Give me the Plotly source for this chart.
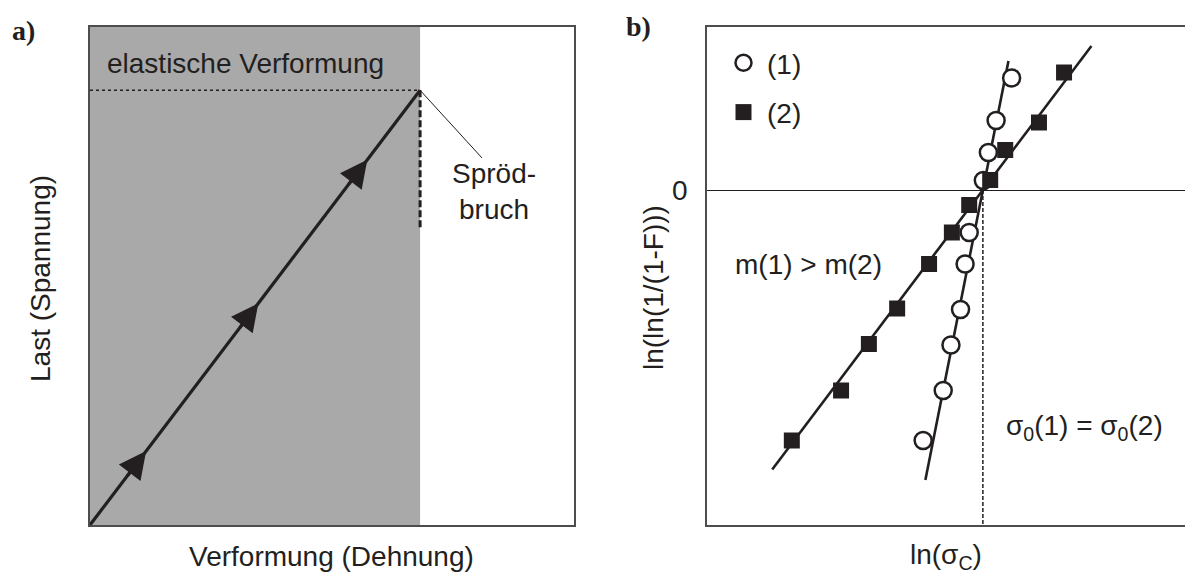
import plotly.graph_objects as go

W, H = 1185, 578
INK = "#231f20"
FONT = "Arial, Liberation Sans, sans-serif"
TXT = 28

# ---- panel a: load path of a brittle material (axis fractions) ----
deformation = [0.0, 0.682]        # start and fracture strain
load = [0.0, 0.873]               # start and fracture stress
arrow_tips = [0.17, 0.51, 0.84]   # direction arrows along the path (path fraction)
fracture_drop_to = 0.596          # lower end of the dashed drop at fracture

# ---- panel b: Weibull plot ----
ln_sigma_1 = [6.68, 6.34, 6.17, 6.06, 5.75, 5.66, 5.56, 5.35, 5.18, 4.74]
lnln_1 = [2.24, 1.39, 0.75, 0.19, -0.85, -1.48, -2.39, -3.10, -4.01, -5.01]
ln_sigma_2 = [7.83, 7.28, 6.54, 6.21, 5.75, 5.37, 4.87, 4.17, 3.55, 2.94, 1.86]
lnln_2 = [2.35, 1.35, 0.80, 0.20, -0.30, -0.85, -1.48, -2.37, -3.08, -4.01, -5.01]
ln_sigma_0 = 6.05                 # common characteristic strength
m_1, m_2 = 4.6, 1.21              # Weibull moduli (slopes)
fit_1_y = [-5.8, 2.58]
fit_2_y = [-5.59, 2.88]

# panel placement in pixels
A_X = (90, 574)
B_X = (707, 1185)
P_Y = (27, 525)
XB_RANGE = [0, (B_X[1] - B_X[0]) / 45.6]
YB_RANGE = [-(P_Y[1] - 190) / 50, (190 - P_Y[0]) / 50]


def xdom(px):
    return [px[0] / W, px[1] / W]


ydom = [1 - P_Y[1] / H, 1 - P_Y[0] / H]

fig = go.Figure()

# load path
fig.add_trace(go.Scatter(x=deformation, y=load, mode="lines",
                         line=dict(color=INK, width=3.2), showlegend=False,
                         xaxis="x", yaxis="y", hoverinfo="skip"))

# Weibull fit lines through the common sigma_0
fit_1_x = [ln_sigma_0 + y / m_1 for y in fit_1_y]
fit_2_x = [ln_sigma_0 + y / m_2 for y in fit_2_y]
for fx, fy in ((fit_1_x, fit_1_y), (fit_2_x, fit_2_y)):
    fig.add_trace(go.Scatter(x=fx, y=fy, mode="lines", line=dict(color=INK, width=2.6),
                             showlegend=False, xaxis="x2", yaxis="y2", hoverinfo="skip"))

fig.add_trace(go.Scatter(x=ln_sigma_1, y=lnln_1, mode="markers", name="(1)",
                         legendgroup="1",
                         marker=dict(symbol="circle", size=17, color="white",
                                     line=dict(color=INK, width=2.5)),
                         xaxis="x2", yaxis="y2"))
fig.add_trace(go.Scatter(x=ln_sigma_2, y=lnln_2, mode="markers", name="(2)",
                         legendgroup="2",
                         marker=dict(symbol="square", size=16, color=INK,
                                     line=dict(color=INK, width=0)),
                         xaxis="x2", yaxis="y2"))

shapes = [
    # elastic region
    dict(type="rect", xref="x", yref="y", x0=0, x1=deformation[1], y0=0, y1=1,
         fillcolor="#a9a9a9", line=dict(width=0), layer="below"),
    # level of fracture load
    dict(type="line", xref="x", yref="y", x0=0, x1=deformation[1], y0=load[1], y1=load[1],
         line=dict(color=INK, width=1.5, dash="dot")),
    # sudden drop at brittle fracture
    dict(type="line", xref="x", yref="y", x0=deformation[1], x1=deformation[1],
         y0=load[1], y1=fracture_drop_to, line=dict(color=INK, width=3, dash="7px,3px")),
    # leader to the fracture point
    dict(type="line", xref="x", yref="y", x0=deformation[1], x1=0.81,
         y0=load[1], y1=0.737, line=dict(color=INK, width=1)),
    # sigma_0 marker on panel b
    dict(type="line", xref="x2", yref="y2", x0=ln_sigma_0, x1=ln_sigma_0,
         y0=0, y1=YB_RANGE[0], line=dict(color=INK, width=1.5, dash="4px,2px")),
]

annotations = [
    dict(text="<b>a)</b>", x=10 / W, y=1 - 30 / H, xanchor="left", yanchor="middle",
         font=dict(family="Liberation Serif, Times New Roman, serif", size=28, color=INK)),
    dict(text="<b>b)</b>", x=624 / W, y=1 - 26 / H, xanchor="left", yanchor="middle",
         font=dict(family="Liberation Serif, Times New Roman, serif", size=28, color=INK)),
    dict(text="elastische Verformung", x=245 / W, y=1 - 63 / H, xanchor="center",
         yanchor="middle"),
    dict(text="Spröd-<br>bruch", x=494 / W, y=1 - 191 / H, xanchor="center",
         yanchor="middle"),
    dict(text="Verformung (Dehnung)", x=(A_X[0] + A_X[1]) / 2 / W, y=1 - 556 / H,
         xanchor="center", yanchor="middle"),
    dict(text="Last (Spannung)", x=40 / W, y=1 - 279 / H, xanchor="center",
         yanchor="middle", textangle=-90),
    dict(text="ln(ln(1/(1-F)))", x=653 / W, y=1 - 288 / H, xanchor="center",
         yanchor="middle", textangle=-90),
    dict(text="ln(σ<sub>C</sub>)", x=946 / W, y=1 - 556 / H, xanchor="center",
         yanchor="middle"),
    dict(text="m(1) > m(2)", x=733 / W, y=1 - 264 / H, xanchor="left",
         yanchor="middle"),
    dict(text="σ<sub>0</sub>(1) = σ<sub>0</sub>(2)", x=1004 / W, y=1 - 427 / H,
         xanchor="left", yanchor="middle"),
]
for a in annotations:
    a.update(xref="paper", yref="paper", showarrow=False)
    a.setdefault("font", dict(size=TXT, color=INK))

# direction arrowheads sitting on the load path
for s in arrow_tips:
    tip_x = deformation[0] + s * (deformation[1] - deformation[0])
    tip_y = load[0] + s * (load[1] - load[0])
    tail_x = deformation[0] + (s - 0.06) * (deformation[1] - deformation[0])
    tail_y = load[0] + (s - 0.06) * (load[1] - load[0])
    annotations.append(dict(
        x=tip_x, y=tip_y, ax=tail_x, ay=tail_y, xref="x", yref="y", axref="x", ayref="y",
        text="", showarrow=True, arrowhead=2, arrowsize=1.7, arrowwidth=3.2,
        arrowcolor=INK, standoff=0, startstandoff=0))

frame = dict(showline=True, linecolor="#4d4d4d", linewidth=1.5, showgrid=False,
             zeroline=False, ticks="", showticklabels=False, fixedrange=True)

fig.update_layout(
    width=W, height=H, margin=dict(l=0, r=0, t=0, b=0),
    paper_bgcolor="white", plot_bgcolor="white",
    font=dict(family=FONT, color=INK, size=TXT),
    xaxis=dict(domain=xdom(A_X), range=[0, 1], mirror=True, **frame),
    yaxis=dict(domain=ydom, range=[0, 1], mirror=True, **frame),
    xaxis2=dict(domain=xdom(B_X), range=XB_RANGE, anchor="y2", mirror=True, **frame),
    yaxis2=dict(domain=ydom, range=YB_RANGE, anchor="x2", mirror=False,
                **{**frame, "zeroline": True, "zerolinecolor": INK, "zerolinewidth": 1,
                   "showticklabels": True, "tickvals": [0], "ticktext": ["0"],
                   "ticks": "outside", "ticklen": 12, "tickcolor": "rgba(0,0,0,0)",
                   "tickfont": dict(size=TXT, color=INK)}),
    showlegend=True,
    legend=dict(x=720 / W, y=1 - 38 / H, xanchor="left", yanchor="top",
                bgcolor="rgba(0,0,0,0)", borderwidth=0, font=dict(size=TXT, color=INK),
                tracegroupgap=10, itemsizing="trace", itemwidth=37),
    shapes=shapes, annotations=annotations,
)

fig.write_html("out.html")
